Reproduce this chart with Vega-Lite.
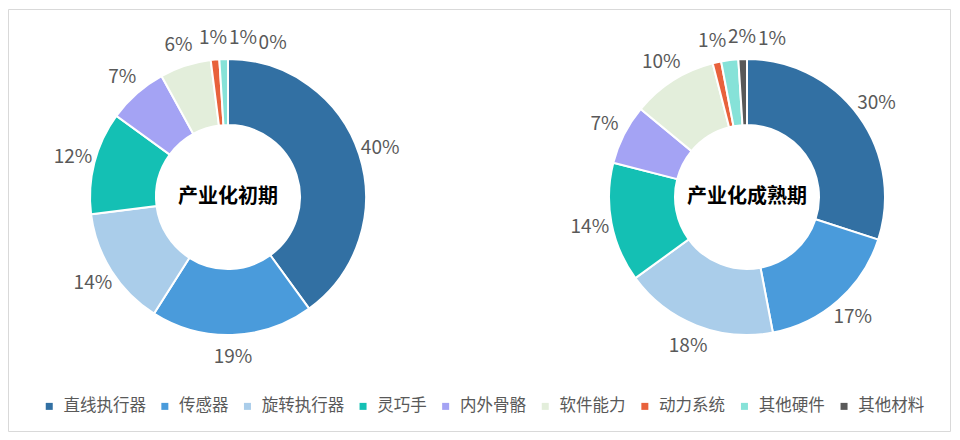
{
  "$schema": "https://vega.github.io/schema/vega-lite/v6.json",
  "width": 942,
  "height": 422,
  "padding": {"left": 8, "top": 9, "right": 10, "bottom": 9},
  "autosize": {"type": "none"},
  "background": "white",
  "config": {
    "view": {"stroke": "#D9D9D9", "strokeWidth": 1},
    "font": "Noto Sans CJK SC"
  },
  "datasets": {
    "parts": [
      {"stage": "产业化初期", "idx": 1, "part": "直线执行器", "share": 0.40},
      {"stage": "产业化初期", "idx": 2, "part": "传感器", "share": 0.19},
      {"stage": "产业化初期", "idx": 3, "part": "旋转执行器", "share": 0.14},
      {"stage": "产业化初期", "idx": 4, "part": "灵巧手", "share": 0.12},
      {"stage": "产业化初期", "idx": 5, "part": "内外骨骼", "share": 0.07},
      {"stage": "产业化初期", "idx": 6, "part": "软件能力", "share": 0.06},
      {"stage": "产业化初期", "idx": 7, "part": "动力系统", "share": 0.01},
      {"stage": "产业化初期", "idx": 8, "part": "其他硬件", "share": 0.01},
      {"stage": "产业化初期", "idx": 9, "part": "其他材料", "share": 0.0},
      {"stage": "产业化成熟期", "idx": 1, "part": "直线执行器", "share": 0.30},
      {"stage": "产业化成熟期", "idx": 2, "part": "传感器", "share": 0.17},
      {"stage": "产业化成熟期", "idx": 3, "part": "旋转执行器", "share": 0.18},
      {"stage": "产业化成熟期", "idx": 4, "part": "灵巧手", "share": 0.14},
      {"stage": "产业化成熟期", "idx": 5, "part": "内外骨骼", "share": 0.07},
      {"stage": "产业化成熟期", "idx": 6, "part": "软件能力", "share": 0.10},
      {"stage": "产业化成熟期", "idx": 7, "part": "动力系统", "share": 0.01},
      {"stage": "产业化成熟期", "idx": 8, "part": "其他硬件", "share": 0.02},
      {"stage": "产业化成熟期", "idx": 9, "part": "其他材料", "share": 0.01}
    ],
    "stages": [
      {"stage": "产业化初期"},
      {"stage": "产业化成熟期"}
    ]
  },
  "data": {"name": "parts"},
  "transform": [
    {"stack": "share", "groupby": ["stage"], "sort": [{"field": "idx", "order": "ascending"}], "as": ["s0", "s1"]}
  ],
  "encoding": {
    "x": {
      "field": "stage",
      "type": "nominal",
      "scale": {"type": "point", "domain": ["产业化初期", "产业化成熟期"], "range": [220, 739], "padding": 0},
      "axis": null
    },
    "y": {
      "field": "stage",
      "type": "nominal",
      "scale": {"type": "point", "domain": ["产业化初期", "产业化成熟期"], "range": [188, 188], "padding": 0},
      "axis": null
    }
  },
  "layer": [
    {
      "mark": {"type": "arc", "outerRadius": 138, "innerRadius": 72, "stroke": "white", "strokeWidth": 2},
      "encoding": {
        "theta": {"field": "s0", "type": "quantitative", "scale": {"domain": [0, 1]}},
        "theta2": {"field": "s1"},
        "color": {
          "field": "part",
          "type": "nominal",
          "scale": {
            "domain": ["直线执行器", "传感器", "旋转执行器", "灵巧手", "内外骨骼", "软件能力", "动力系统", "其他硬件", "其他材料"],
            "range": ["#3270A3", "#4A9BDB", "#AACDEA", "#14C0B4", "#A4A3F4", "#E3EEDB", "#E8623C", "#86E2D8", "#595959"]
          },
          "legend": {
            "orient": "none",
            "legendX": 33,
            "legendY": 389,
            "direction": "horizontal",
            "columns": 9,
            "title": null,
            "padding": 0,
            "symbolType": "square",
            "symbolSize": 49,
            "symbolStrokeWidth": 0,
            "labelFont": "Noto Sans CJK SC",
            "labelFontSize": 16.5,
            "labelColor": "#595959",
            "labelOffset": 6,
            "columnPadding": 10.6
          }
        }
      }
    },
    {
      "transform": [
        {"calculate": "(datum.s0 + datum.s1) / 2 - datum.idx * 0.03", "as": "t"},
        {"window": [{"op": "max", "field": "t", "as": "tmax"}], "groupby": ["stage"], "sort": [{"field": "idx", "order": "ascending"}], "frame": [null, 0]},
        {"calculate": "datum.tmax + datum.idx * 0.03", "as": "lab"}
      ],
      "mark": {"type": "text", "radius": 160, "fontSize": 19, "color": "#595959", "align": "center", "baseline": "middle"},
      "encoding": {
        "theta": {"field": "lab", "type": "quantitative", "scale": {"domain": [0, 1]}},
        "text": {"field": "share", "type": "quantitative", "format": ".0%"}
      }
    },
    {
      "data": {"name": "stages"},
      "transform": [],
      "mark": {"type": "text", "fontSize": 20, "fontWeight": "bold", "color": "#000000", "align": "center", "baseline": "middle"},
      "encoding": {
        "text": {"field": "stage", "type": "nominal"}
      }
    }
  ]
}
